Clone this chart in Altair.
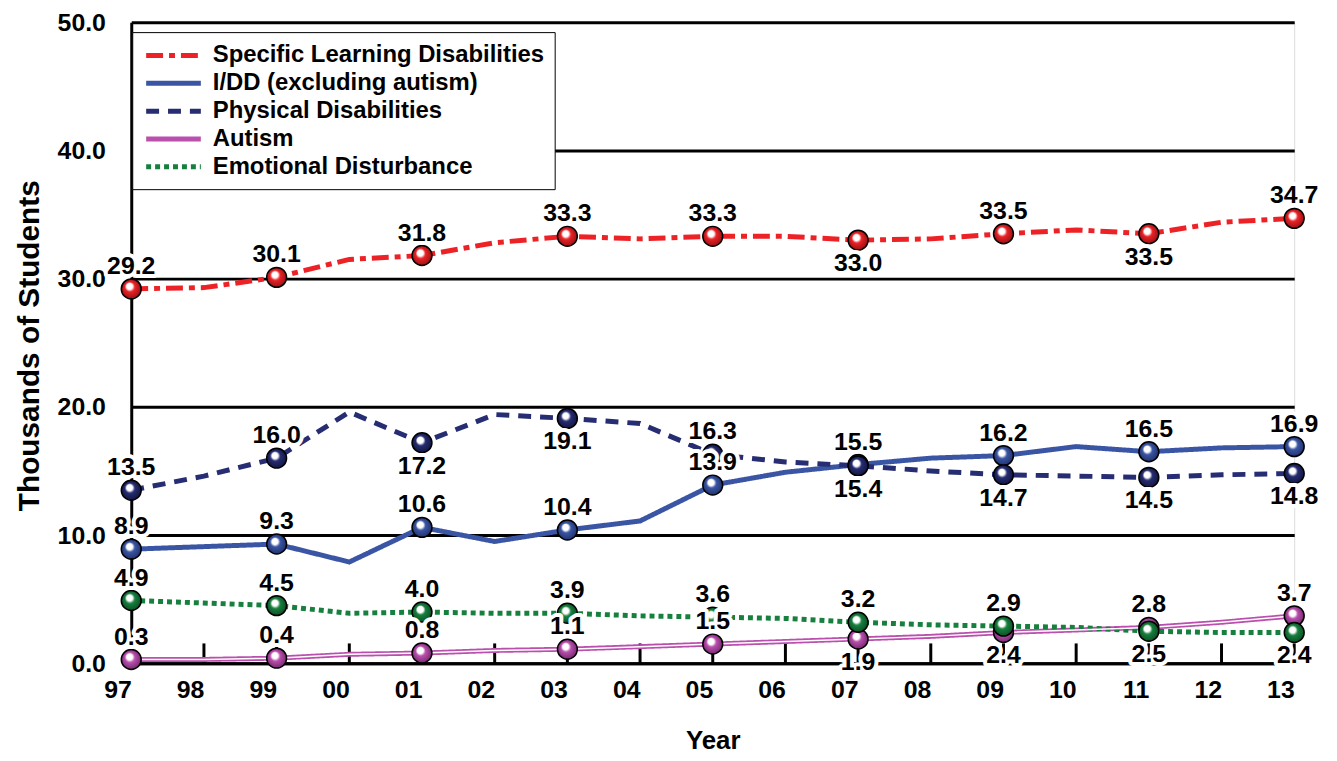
import altair as alt
import pandas as pd

years = ["97", "98", "99", "00", "01", "02", "03", "04", "05",
         "06", "07", "08", "09", "10", "11", "12", "13"]

series_names = ["Specific Learning Disabilities", "I/DD (excluding autism)",
                "Physical Disabilities", "Autism", "Emotional Disturbance"]

sld = [29.2, 29.3, 30.1, 31.5, 31.8, 32.8, 33.3, 33.1, 33.3,
       33.3, 33.0, 33.1, 33.5, 33.8, 33.5, 34.4, 34.7]
idd = [8.9, 9.1, 9.3, 7.9, 10.6, 9.5, 10.4, 11.1, 13.9,
       14.9, 15.5, 16.0, 16.2, 16.9, 16.5, 16.8, 16.9]
phys = [13.5, 14.6, 16.0, 19.6, 17.2, 19.4, 19.1, 18.7, 16.3,
        15.7, 15.4, 15.0, 14.7, 14.6, 14.5, 14.7, 14.8]
autism = [0.3, 0.3, 0.4, 0.7, 0.8, 1.0, 1.1, 1.3, 1.5,
          1.7, 1.9, 2.1, 2.4, 2.6, 2.8, 3.2, 3.7]
emo = [4.9, 4.7, 4.5, 3.9, 4.0, 3.9, 3.9, 3.7, 3.6,
       3.5, 3.2, 3.0, 2.9, 2.8, 2.5, 2.4, 2.4]

# label placement for the marked (odd) years: a = above, b = below
sld_pos = ["a", "a", "a", "a", "a", "b", "a", "b", "a"]
idd_pos = ["a", "a", "a", "a", "a", "a", "a", "a", "a"]
phys_pos = ["a", "a", "b", "b", "a", "b", "b", "b", "b"]
autism_pos = ["a", "a", "a", "a", "a", "b", "b", "a", "a"]
emo_pos = ["a", "a", "a", "a", "a", "a", "a", "b", "b"]

line_colors = ["#EC2227", "#3A55A4", "#262D72", "#BA4FAE", "#17803E"]
marker_dark = ["#8E0F12", "#1E2F66", "#10133C", "#6E2568", "#0A4A22"]
dashes = [[17, 6, 6, 6], [1, 0], [13, 9], [1, 0], [5, 4]]

rows = []
for name, vals, pos in zip(series_names, [sld, idd, phys, autism, emo],
                           [sld_pos, idd_pos, phys_pos, autism_pos, emo_pos]):
    k = 0
    for i, (yr, v) in enumerate(zip(years, vals)):
        marked = (i % 2 == 0)
        p = ""
        if marked:
            p = pos[k]
            k += 1
        rows.append(dict(year=yr, series=name, value=v, marked=marked, pos=p))
df = pd.DataFrame(rows)
ticks_df = pd.DataFrame({"year": years})

FONT = "Liberation Sans"

x_enc = alt.X("year:N",
              scale=alt.Scale(type="point", domain=years, padding=0),
              axis=alt.Axis(labelAngle=0, ticks=False, grid=False, zindex=0,
                            domainColor="black", domainWidth=3,
                            labelPadding=26, labelBaseline="middle",
                            labelFont=FONT, labelFontSize=25,
                            labelFontWeight="bold", labelColor="black",
                            title="Year", titleFont=FONT, titleFontSize=26,
                            titleFontWeight="bold", titleColor="black",
                            titleY=78, titleBaseline="middle"))
y_enc = alt.Y("value:Q",
              scale=alt.Scale(domain=[0, 50], nice=False),
              axis=alt.Axis(values=[0, 10, 20, 30, 40, 50], format=".1f",
                            grid=True, gridColor="black", gridWidth=3, gridOpacity=1,
                            domainColor="black", domainWidth=3, ticks=False, zindex=0,
                            labelPadding=26, labelFont=FONT, labelFontSize=25,
                            labelFontWeight="bold", labelColor="black",
                            title="Thousands of Students", titleFont=FONT,
                            titleFontSize=30, titleFontWeight="bold",
                            titleColor="black", titleX=-102, titleY=325,
                            titleAngle=270, titleAlign="center",
                            titleBaseline="middle"))

legend_props = dict(orient="none", legendX=1, legendY=10, title=None,
                    symbolType="M-2.5,0L2.5,0", symbolSize=484, symbolStrokeWidth=5,
                    symbolOffset=18,
                    labelFont=FONT, labelFontSize=24, labelFontWeight="bold",
                    labelColor="black", labelOffset=26, rowPadding=2,
                    padding=10, strokeColor="black", fillColor="white",
                    labelLimit=600)

tick_rules = alt.Chart(ticks_df).mark_rule(color="black", strokeWidth=3).encode(
    x=alt.X("year:N", scale=alt.Scale(type="point", domain=years, padding=0)),
    y=alt.datum(0), y2=alt.datum(1.55))

lines = alt.Chart(df).mark_line(strokeWidth=5).encode(
    x=x_enc, y=y_enc,
    color=alt.Color("series:N", scale=alt.Scale(domain=series_names, range=line_colors),
                    legend=alt.Legend(**legend_props)),
    strokeDash=alt.StrokeDash("series:N", scale=alt.Scale(domain=series_names, range=dashes),
                              legend=alt.Legend(**legend_props)))

autism_inner = alt.Chart(df).transform_filter(
    alt.datum.series == "Autism").mark_line(color="white", strokeWidth=1.5).encode(
    x=alt.X("year:N"), y=alt.Y("value:Q"))

layers = [tick_rules, lines, autism_inner]

for name, col, dark in zip(series_names, line_colors, marker_dark):
    grad = {"gradient": "radial", "x1": 0.38, "y1": 0.32, "r1": 0.0,
            "x2": 0.5, "y2": 0.5, "r2": 0.55,
            "stops": [{"offset": 0.0, "color": "#ffffff"},
                      {"offset": 0.28, "color": "#ffffff"},
                      {"offset": 0.45, "color": col},
                      {"offset": 1.0, "color": dark}]}
    m = alt.Chart(df).transform_filter(
        (alt.datum.series == name) & (alt.datum.marked == True)
    ).mark_circle(size=400, fill=grad, stroke="black", strokeWidth=1.5, opacity=1).encode(
        x=alt.X("year:N"), y=alt.Y("value:Q"))
    layers.append(m)

for p, dy in [("a", -23), ("b", 23)]:
    sub = alt.Chart(df).transform_filter(
        (alt.datum.marked == True) & (alt.datum.pos == p))
    halo = sub.mark_text(dy=dy, font=FONT, fontSize=25, fontWeight="bold",
                         color="white", stroke="white", strokeWidth=8,
                         strokeJoin="round", baseline="middle", align="center").encode(
        x=alt.X("year:N"), y=alt.Y("value:Q"),
        text=alt.Text("value:Q", format=".1f"))
    txt = sub.mark_text(dy=dy, font=FONT, fontSize=25, fontWeight="bold",
                        color="black", baseline="middle", align="center").encode(
        x=alt.X("year:N"), y=alt.Y("value:Q"),
        text=alt.Text("value:Q", format=".1f"))
    layers.extend([halo, txt])

chart = alt.layer(*layers).properties(
    width=1170, height=645,
    autosize=alt.AutoSizeParams(type="none"),
    padding={"left": 124, "top": 12, "right": 35, "bottom": 92},
).configure_view(stroke="black", strokeWidth=3).configure_legend(
    strokeWidth=2).configure(background="white")

chart.save("out.html", embed_options={"renderer": "svg", "actions": False})
